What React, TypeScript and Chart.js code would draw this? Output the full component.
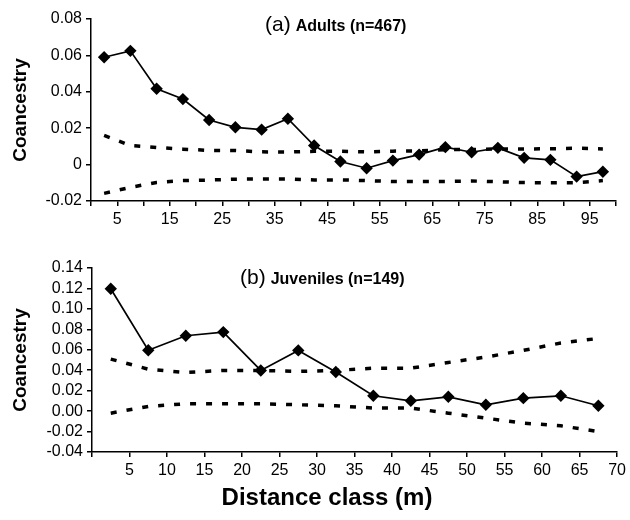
import React, { useEffect, useRef } from 'react';
import { Chart, registerables } from 'chart.js';
Chart.register(...registerables);

// ---------- Panel (a) Adults ----------
const distA = [2.5, 7.5, 12.5, 17.5, 22.5, 27.5, 32.5, 37.5, 42.5, 47.5, 52.5, 57.5, 62.5, 67.5, 72.5, 77.5, 82.5, 87.5, 92.5, 97.5];
const coanA = [0.059, 0.0625, 0.0417, 0.036, 0.0245, 0.0205, 0.0192, 0.0252, 0.0105, 0.0017, -0.002, 0.0022, 0.0055, 0.0096, 0.0068, 0.0092, 0.0037, 0.0026, -0.0066, -0.0039];
const upperA = [0.016, 0.0105, 0.0094, 0.0085, 0.0078, 0.0077, 0.007, 0.0069, 0.0073, 0.0073, 0.007, 0.0074, 0.0075, 0.0082, 0.0083, 0.0086, 0.0086, 0.0087, 0.009, 0.0086];
const lowerA = [-0.0158, -0.0125, -0.0098, -0.0088, -0.0085, -0.008, -0.0079, -0.0079, -0.0084, -0.0084, -0.0088, -0.0093, -0.0093, -0.0093, -0.009, -0.0094, -0.0099, -0.01, -0.0099, -0.0088];
const xLabelsA = [5, 15, 25, 35, 45, 55, 65, 75, 85, 95];
const yTicksA = [-0.02, 0, 0.02, 0.04, 0.06, 0.08];
const yLabelsA = ['-0.02', '0', '0.02', '0.04', '0.06', '0.08'];

// ---------- Panel (b) Juveniles ----------
const distB = [2.5, 7.5, 12.5, 17.5, 22.5, 27.5, 32.5, 37.5, 42.5, 47.5, 52.5, 57.5, 62.5, 67.5];
const coanB = [0.1197, 0.0595, 0.0737, 0.0773, 0.0398, 0.0594, 0.0382, 0.015, 0.0101, 0.014, 0.0062, 0.0127, 0.015, 0.0052];
const upperB = [0.0509, 0.041, 0.0378, 0.0398, 0.0398, 0.0388, 0.0398, 0.042, 0.042, 0.0476, 0.0529, 0.0594, 0.0666, 0.0711];
const lowerB = [-0.002, 0.0046, 0.0072, 0.0072, 0.0072, 0.0062, 0.0052, 0.003, 0.003, -0.002, -0.0069, -0.0117, -0.0144, -0.02];
const xLabelsB = [5, 10, 15, 20, 25, 30, 35, 40, 45, 50, 55, 60, 65, 70];
const yTicksB = [-0.04, -0.02, 0, 0.02, 0.04, 0.06, 0.08, 0.1, 0.12, 0.14];
const yLabelsB = ['-0.04', '-0.02', '0.00', '0.02', '0.04', '0.06', '0.08', '0.10', '0.12', '0.14'];

const yTitle = 'Coancestry';
const xTitle = 'Distance class (m)';

type PanelCfg = {
  width: number;
  height: number;
  dist: number[];
  coan: number[];
  upper: number[];
  lower: number[];
  xMax: number;
  xLabels: number[];
  yTicks: number[];
  yLabels: string[];
  tag: string;
  label: string;
  titleLeft: number;
  titleY: number;
  pad: { top: number; right: number };
  yWidth: number;
  xHeight: number;
  showXTitle: boolean;
};

const FONT = "'Liberation Sans', Arial, Helvetica, sans-serif";

function Panel({ cfg }: { cfg: PanelCfg }) {
  const ref = useRef<HTMLCanvasElement | null>(null);
  useEffect(() => {
    if (!ref.current) return;
    const pts = (ys: number[]) => cfg.dist.map((x, i) => ({ x, y: ys[i] }));
    const titlePlugin = {
      id: 'panelTitles',
      afterDraw(chart: any) {
        const ctx = chart.ctx;
        const area = chart.chartArea;
        ctx.save();
        ctx.fillStyle = '#000';
        // panel title
        ctx.textBaseline = 'alphabetic';
        ctx.textAlign = 'left';
        ctx.font = `21px ${FONT}`;
        const tagW = ctx.measureText(cfg.tag).width;
        ctx.fillText(cfg.tag, cfg.titleLeft, cfg.titleY);
        ctx.font = `bold 16px ${FONT}`;
        ctx.fillText(cfg.label, cfg.titleLeft + tagW + 5, cfg.titleY);
        // y title
        ctx.save();
        ctx.translate(21, (area.top + area.bottom) / 2);
        ctx.rotate(-Math.PI / 2);
        ctx.textAlign = 'center';
        ctx.textBaseline = 'middle';
        ctx.font = `bold 19px ${FONT}`;
        ctx.fillText(yTitle, 0, 0);
        ctx.restore();
        if (cfg.showXTitle) {
          ctx.textAlign = 'center';
          ctx.textBaseline = 'middle';
          ctx.font = `bold 24px ${FONT}`;
          ctx.fillText(xTitle, 327, chart.height - 22);
        }
        ctx.restore();
      },
    };
    const chart = new Chart(ref.current, {
      type: 'line',
      data: {
        datasets: [
          {
            data: pts(cfg.upper),
            borderColor: '#000',
            borderWidth: 3.5,
            borderDash: [6, 10],
            pointRadius: 0,
            fill: false,
          },
          {
            data: pts(cfg.lower),
            borderColor: '#000',
            borderWidth: 3.5,
            borderDash: [6, 10],
            pointRadius: 0,
            fill: false,
          },
          {
            data: pts(cfg.coan),
            borderColor: '#000',
            borderWidth: 1.7,
            pointStyle: 'rectRot',
            pointRadius: 5,
            pointBackgroundColor: '#000',
            pointBorderColor: '#000',
            fill: false,
          },
        ],
      },
      options: {
        animation: false,
        responsive: false,
        events: [],
        layout: { padding: { top: cfg.pad.top, right: cfg.pad.right, left: 0, bottom: 0 } },
        plugins: { legend: { display: false }, tooltip: { enabled: false }, title: { display: false } },
        scales: {
          x: {
            type: 'linear',
            min: 0,
            max: cfg.xMax,
            afterFit: (s: any) => { s.height = cfg.xHeight; },
            afterBuildTicks: (s: any) => {
              const t = [];
              for (let v = 0; v <= cfg.xMax; v += 5) t.push({ value: v });
              s.ticks = t;
            },
            border: { color: '#000', width: 1.5 },
            grid: { drawOnChartArea: false, drawTicks: true, tickLength: 5, color: '#000', lineWidth: 1.5 },
            ticks: {
              autoSkip: false,
              maxRotation: 0,
              padding: 4,
              color: '#000',
              font: { family: FONT, size: 16 },
              callback: (v: any) => (cfg.xLabels.includes(Number(v)) ? String(v) : ''),
            },
          },
          y: {
            type: 'linear',
            min: cfg.yTicks[0],
            max: cfg.yTicks[cfg.yTicks.length - 1],
            afterFit: (s: any) => { s.width = cfg.yWidth; },
            afterBuildTicks: (s: any) => {
              s.ticks = cfg.yTicks.map((v) => ({ value: v }));
            },
            border: { color: '#000', width: 1.5 },
            grid: { drawOnChartArea: false, drawTicks: true, tickLength: 5, color: '#000', lineWidth: 1.5 },
            ticks: {
              autoSkip: false,
              padding: 4,
              color: '#000',
              font: { family: FONT, size: 16 },
              callback: (_v: any, i: number) => cfg.yLabels[i],
            },
          },
        },
      },
      plugins: [titlePlugin],
    } as any);
    return () => chart.destroy();
  }, [cfg]);
  return <canvas ref={ref} width={cfg.width} height={cfg.height} style={{ display: 'block' }} />;
}

const panelA: PanelCfg = {
  width: 630, height: 250,
  dist: distA, coan: coanA, upper: upperA, lower: lowerA,
  xMax: 100, xLabels: xLabelsA, yTicks: yTicksA, yLabels: yLabelsA,
  tag: '(a)', label: 'Adults (n=467)', titleLeft: 265, titleY: 31,
  pad: { top: 19, right: 14 }, yWidth: 91, xHeight: 49, showXTitle: false,
};

const panelB: PanelCfg = {
  width: 630, height: 270,
  dist: distB, coan: coanB, upper: upperB, lower: lowerB,
  xMax: 70, xLabels: xLabelsB, yTicks: yTicksB, yLabels: yLabelsB,
  tag: '(b)', label: 'Juveniles (n=149)', titleLeft: 240, titleY: 34,
  pad: { top: 18, right: 11 }, yWidth: 92, xHeight: 68, showXTitle: true,
};

export default function App() {
  return (
    <div style={{ position: 'absolute', left: 0, top: 0, width: 630, height: 520, background: '#fff' }}>
      <Panel cfg={panelA} />
      <Panel cfg={panelB} />
    </div>
  );
}
